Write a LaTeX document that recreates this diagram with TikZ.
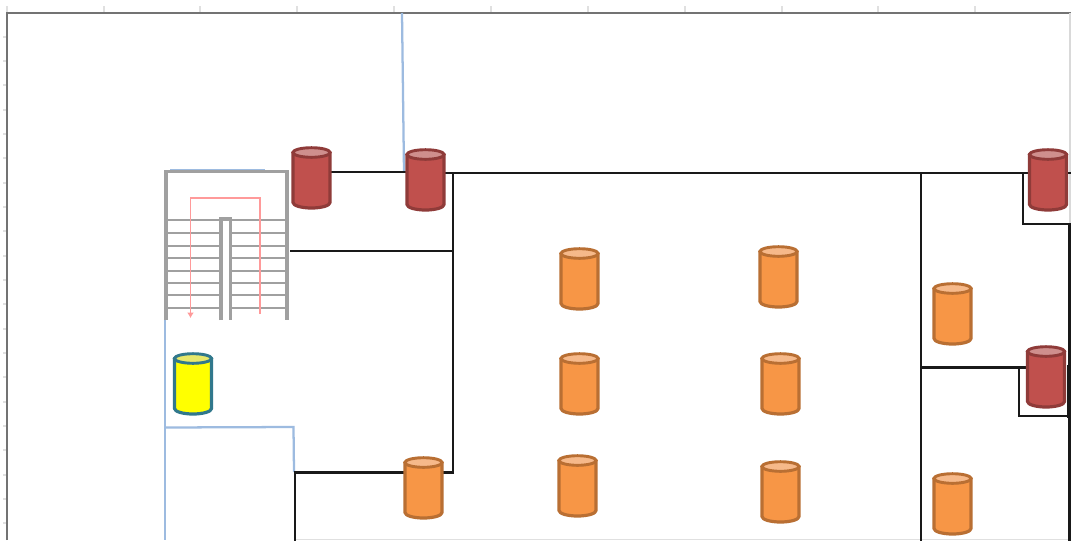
\documentclass[tikz,border=0pt]{standalone}
\usetikzlibrary{arrows.meta}
\definecolor{redfill}{HTML}{C0504D}
\definecolor{redline}{HTML}{8F3B39}
\definecolor{redtop}{HTML}{CF8F8D}
\definecolor{orangefill}{HTML}{F79646}
\definecolor{orangeline}{HTML}{B96F33}
\definecolor{orangetop}{HTML}{F6B98A}
\definecolor{yellowfill}{RGB}{255,255,0}
\definecolor{yellowline}{HTML}{31788C}
\definecolor{yellowtop}{HTML}{E8E86A}
\definecolor{planblue}{HTML}{9DBBE0}
\definecolor{stairgray}{HTML}{A0A0A0}
\definecolor{stairred}{HTML}{FF9A9A}
\tikzset{
  wall/.style={draw=black!90,line width=2pt,line cap=rect},
  blueline/.style={draw=planblue,line width=1.7pt},
  stairline/.style={draw=stairgray,line width=1.8pt},
  stairpost/.style={draw=stairgray,line width=3.2pt},
  cyl/.pic={
    \path[pic actions,line width=2.4pt,line join=round] (-18.5,5) -- (-18.5,55.5)
      arc[start angle=180,end angle=0,x radius=18.5,y radius=5.5] -- (18.5,5)
      arc[start angle=0,end angle=180,x radius=18.5,y radius=4.5] -- cycle;
    \path[pic actions,line width=2.2pt,fill=\cyltop] (0,5.5) ellipse[x radius=18.5,y radius=4.8];
  },
  redcyl/.style={draw=redline,fill=redfill,/utils/exec={\def\cyltop{redtop}}},
  orangecyl/.style={draw=orangeline,fill=orangefill,/utils/exec={\def\cyltop{orangetop}}},
  yellowcyl/.style={draw=yellowline,fill=yellowfill,/utils/exec={\def\cyltop{yellowtop}}},
}
\begin{document}
\begin{tikzpicture}[x=0.75pt,y=-0.75pt]
\useasboundingbox (0,0) rectangle (1071,540);
\fill[white] (0,0) rectangle (1071,540);
% sheet ticks
\foreach \tx in {7,104,200,297,394,491,588,685,782,878,975}
  \draw[black!12,line width=0.9pt] (\tx,6) -- (\tx,13);
\foreach \ty in {37,61,85,110,134,158,183,207,231,256,280,304,329,353,377,402,426,450,475,499,523}
  \draw[black!12,line width=0.9pt] (3,\ty) -- (7,\ty);
% sheet frame
\draw[black!55,line width=1.9pt] (7,540) -- (7,13) -- (1071,13);
\draw[black!15,line width=0.9pt] (1070,13) -- (1070,224);
\draw[black!12,line width=0.9pt] (296,539.5) -- (1071,539.5);
% blue lines
\draw[blueline] (402,13) -- (404,172);
\draw[blueline] (165,320) -- (165,540);
\draw[blueline] (165,427.5) -- (293.5,427) -- (294,472);
% stairs
\foreach \sy in {220,233,246,258,271,283,295,308}{
  \draw[stairline] (167,\sy) -- (221,\sy);
  \draw[stairline] (231,\sy) -- (287,\sy);
}
\draw[blueline,line width=1.2pt] (170,170) -- (265,170);
\draw[stairpost,line width=2.4pt] (166,320) -- (166,171.5) -- (289,171.5);
\draw[stairpost] (287,172) -- (287,320);
\draw[stairpost,line width=2.6pt] (221,320) -- (221,219) -- (230.5,219) -- (230.5,320);
\draw[stairred,line width=1.3pt,-{Latex[length=4pt,width=5pt]}] (260,314) -- (260,198) -- (190.5,198) -- (190.5,318);
% walls
\draw[wall] (331,172) -- (405,172);
\draw[wall] (445,173) -- (1071,173);
\draw[wall] (453,173) -- (453,472.5) -- (443,472.5);
\draw[wall] (291,251) -- (453,251);
\draw[wall] (404,472.5) -- (295,472.5) -- (295,540);
\draw[wall] (921,173) -- (921,540);
\draw[wall] (921,367.5) -- (1026,367.5);
\draw[wall] (1023,173) -- (1023,224) -- (1070,224);
\draw[wall] (1019,367.5) -- (1019,416) -- (1069,416);
\draw[wall] (1069.5,224) -- (1069.5,540);
\draw[wall,line width=3.4pt] (1069.5,367) -- (1069.5,416);
% cylinders: centre x, top y
\foreach \cx/\cy in {311.5/147,425.5/149,1048/149,1046/346}
  \pic[redcyl] at (\cx,\cy) {cyl};
\foreach \cx/\cy in {579.5/248,778.5/246,952.5/283,579.5/353,780.5/353,423.5/457,577.5/455,780.5/461,952.5/473}
  \pic[orangecyl] at (\cx,\cy) {cyl};
\pic[yellowcyl] at (193,353) {cyl};
\end{tikzpicture}
\end{document}
